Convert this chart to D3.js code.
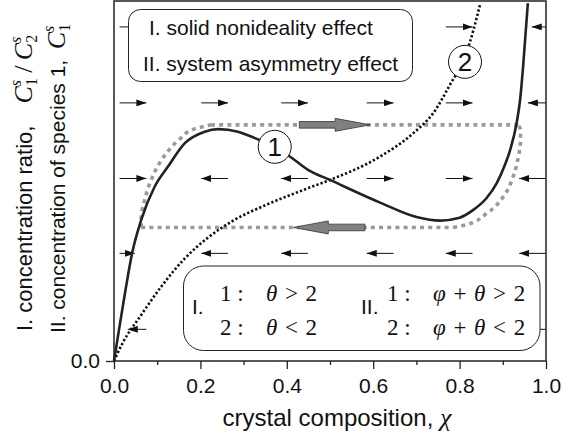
<!DOCTYPE html>
<meta charset="utf-8">
<style>

body { margin: 0; background: #fff; }

text {
  font-family: "Liberation Sans", Arial, sans-serif;
  fill: #111;
}

.math { font-family: "Liberation Serif", "DejaVu Serif", serif; }

.curve1 { fill: none; stroke: #222; stroke-width: 2.6; }
.curve2 { fill: none; stroke: #111; stroke-width: 2.6; stroke-dasharray: 2.3,2.1; }
.loop { fill: none; stroke: #9a9a9a; stroke-width: 3.6; stroke-dasharray: 4,4.2; }
.flow { stroke: #111; stroke-width: 1; fill: none; }
.note { fill: #fff; stroke: #222; stroke-width: 1; }
.big { fill: #808080; stroke: #333; stroke-width: 0.8; }
.frame { fill: none; stroke: #222; stroke-width: 1.5; }

</style>
<svg width="563" height="446"></svg>
<script src="https://cdn.jsdelivr.net/npm/d3@7"></script>
<script>

// x ticks
var xMajor = [0, 0.2, 0.4, 0.6, 0.8, 1.0];
var xMinor = [0.1, 0.3, 0.5, 0.7, 0.9];

// curve 1 (solid): theta > 2
var curve1 = [[0, 0], [0.012, 0.09], [0.027, 0.20], [0.042, 0.30], [0.063, 0.392],
  [0.094, 0.484], [0.125, 0.540], [0.164, 0.605], [0.210, 0.637], [0.241, 0.644],
  [0.287, 0.637], [0.326, 0.619], [0.372, 0.595], [0.407, 0.568], [0.449, 0.531],
  [0.500, 0.503], [0.616, 0.440], [0.700, 0.400], [0.755, 0.390], [0.800, 0.398],
  [0.831, 0.419], [0.862, 0.452], [0.886, 0.494], [0.905, 0.545], [0.917, 0.586],
  [0.932, 0.661], [0.940, 0.725], [0.947, 0.818], [0.958, 0.994]];

// curve 2 (dotted): theta < 2
var curve2 = [[0, 0], [0.020, 0.050], [0.063, 0.128], [0.109, 0.206], [0.164, 0.285],
  [0.218, 0.343], [0.279, 0.392], [0.349, 0.432], [0.449, 0.480], [0.500, 0.503],
  [0.616, 0.568], [0.693, 0.633], [0.740, 0.690], [0.778, 0.768], [0.8125, 0.845],
  [0.832, 0.919], [0.847, 0.989]];

// hysteresis loop (gray dashed): bottom, right, top, left pieces
var loopBottom = [[0.063, 0.371], [0.785, 0.371]];
var loopRight = [[0.785, 0.371], [0.816, 0.379], [0.863, 0.410], [0.901, 0.456],
  [0.924, 0.512], [0.936, 0.567], [0.941, 0.614], [0.941, 0.640], [0.936, 0.656]];
var loopTop = [[0.936, 0.656], [0.225, 0.656]];
var loopLeft = [[0.063, 0.371], [0.063, 0.400], [0.071, 0.447], [0.086, 0.503],
  [0.115, 0.567], [0.150, 0.614], [0.185, 0.644], [0.225, 0.656]];

// big gray arrows: [tail, tip, y]
var bigArrows = [[0.429, 0.593, 0.656], [0.581, 0.415, 0.371]];

// small flow arrows: [from, to, y]
var flows = [
  [0.013, 0.075, 0.928], [0.768, 0.830, 0.928], [1.0, 0.967, 0.928],
  [0.013, 0.075, 0.717], [0.202, 0.264, 0.717], [0.387, 0.449, 0.717],
  [0.585, 0.647, 0.717], [0.768, 0.830, 0.717], [1.0, 0.958, 0.717],
  [0.013, 0.075, 0.507], [0.264, 0.202, 0.507], [0.449, 0.387, 0.507],
  [0.585, 0.647, 0.507], [0.768, 0.830, 0.507], [1.0, 0.938, 0.507],
  [0.013, 0.048, 0.299], [0.264, 0.202, 0.299], [0.449, 0.387, 0.299],
  [0.647, 0.585, 0.299], [0.830, 0.768, 0.299], [1.0, 0.938, 0.299],
  [0.075, 0.032, 0.088], [1.0, 0.938, 0.088]];

// curve labels
var labels = [["1", 0.372, 0.595], ["2", 0.8125, 0.831]];

var svg = d3.select("svg"),
    margin = {left: 114, top: 1, right: 17, bottom: 85},
    width = +svg.attr("width") - margin.left - margin.right,
    height = +svg.attr("height") - margin.top - margin.bottom;

var x = d3.scaleLinear().domain([0, 1]).range([0, width]);
var y = d3.scaleLinear().domain([0, 1]).range([height, 0]);

svg.append("defs").append("marker")
    .attr("id", "head")
    .attr("markerUnits", "userSpaceOnUse")
    .attr("markerWidth", 10).attr("markerHeight", 7)
    .attr("refX", 10).attr("refY", 3.5)
    .attr("orient", "auto")
  .append("path")
    .attr("d", "M0,0L10,3.5L0,7Z")
    .attr("fill", "#111");

var g = svg.append("g")
    .attr("transform", "translate(" + margin.left + "," + margin.top + ")");

var lineX = d3.line()
    .x(function(d) { return x(d[0]); })
    .y(function(d) { return y(d[1]); })
    .curve(d3.curveMonotoneX);

var lineY = d3.line()
    .x(function(d) { return x(d[0]); })
    .y(function(d) { return y(d[1]); })
    .curve(d3.curveMonotoneY);

// flow arrows
g.selectAll(".flow")
  .data(flows)
  .enter().append("line")
    .attr("class", "flow")
    .attr("x1", function(d) { return x(d[0]); })
    .attr("x2", function(d) { return x(d[1]); })
    .attr("y1", function(d) { return y(d[2]); })
    .attr("y2", function(d) { return y(d[2]); })
    .attr("marker-end", "url(#head)");

g.append("path").datum(loopBottom).attr("class", "loop").attr("d", lineX);
g.append("path").datum(loopRight).attr("class", "loop").attr("d", lineY);
g.append("path").datum(loopTop).attr("class", "loop").attr("d", d3.line()
    .x(function(d) { return x(d[0]); })
    .y(function(d) { return y(d[1]); }));
g.append("path").datum(loopLeft).attr("class", "loop").attr("d", lineY);

g.append("path")
    .datum(curve2)
    .attr("class", "curve2")
    .attr("d", lineX);

g.append("path")
    .datum(curve1)
    .attr("class", "curve1")
    .attr("d", lineX);

// big gray arrows
g.selectAll(".big")
  .data(bigArrows)
  .enter().append("path")
    .attr("class", "big")
    .attr("d", function(d) {
      var t = x(d[0]), p = x(d[1]), yy = y(d[2]);
      var s = p > t ? 1 : -1, hb = p - s * 35;
      return "M" + t + "," + (yy - 3.3) + "L" + hb + "," + (yy - 3.3) +
        "L" + hb + "," + (yy - 6.5) + "L" + p + "," + yy +
        "L" + hb + "," + (yy + 6.5) + "L" + hb + "," + (yy + 3.3) +
        "L" + t + "," + (yy + 3.3) + "Z";
    });

var lab = g.selectAll(".lab")
  .data(labels)
  .enter().append("g")
    .attr("transform", function(d) { return "translate(" + x(d[1]) + "," + y(d[2]) + ")"; });

lab.append("circle")
    .attr("r", 16.5)
    .attr("fill", "#fff")
    .attr("stroke", "#111")
    .attr("stroke-width", 1);

lab.append("text")
    .attr("text-anchor", "middle")
    .attr("dy", "0.36em")
    .attr("font-size", 26)
    .text(function(d) { return d[0]; });

// note box 1
svg.append("rect")
    .attr("class", "note")
    .attr("x", 128.5).attr("y", 9.5)
    .attr("width", 284).attr("height", 72)
    .attr("rx", 12);

svg.append("text")
    .attr("x", 149).attr("y", 35)
    .attr("font-size", 21)
    .text("I. solid nonideality effect");

svg.append("text")
    .attr("x", 143).attr("y", 71)
    .attr("font-size", 21)
    .text("II. system asymmetry effect");

// note box 2
svg.append("rect")
    .attr("class", "note")
    .attr("x", 183.5).attr("y", 266)
    .attr("width", 356.5).attr("height", 84.5)
    .attr("rx", 20);

svg.append("text").attr("x", 192).attr("y", 314).attr("font-size", 21).text("I.");
svg.append("text").attr("x", 361).attr("y", 314).attr("font-size", 21).text("II.");

function mathRow(x0, yb, num, parts) {
  var t = svg.append("text").attr("class", "math")
      .attr("x", x0).attr("y", yb).attr("font-size", 23);
  t.append("tspan").text(num + "\u2005:");
  var m = svg.append("text").attr("class", "math")
      .attr("x", x0 + 46).attr("y", yb).attr("font-size", 23);
  parts.forEach(function(p) {
    m.append("tspan")
        .attr("font-style", p[1] ? "italic" : null)
        .text(p[0]);
  });
}

mathRow(220, 301, "1", [["\u03b8", 1], ["\u2004>\u20042", 0]]);
mathRow(220, 335, "2", [["\u03b8", 1], ["\u2004<\u20042", 0]]);
mathRow(387, 301, "1", [["\u03c6", 1], ["\u2004+\u2004", 0], ["\u03b8", 1], ["\u2004>\u20042", 0]]);
mathRow(387, 335, "2", [["\u03c6", 1], ["\u2004+\u2004", 0], ["\u03b8", 1], ["\u2004<\u20042", 0]]);

// frame and axes
g.append("rect")
    .attr("class", "frame")
    .attr("width", width).attr("height", height);

g.append("g")
    .attr("transform", "translate(0," + height + ")")
    .call(d3.axisBottom(x).tickValues(xMajor).tickSize(8).tickPadding(9)
      .tickFormat(d3.format(".1f")));

g.append("g")
    .attr("transform", "translate(0," + height + ")")
    .call(d3.axisBottom(x).tickValues(xMinor).tickSize(4).tickFormat(""));

g.append("g")
    .call(d3.axisLeft(y).tickValues([0]).tickSize(8).tickPadding(6)
      .tickFormat(d3.format(".1f")));

g.selectAll(".domain").remove();
g.selectAll(".tick line").attr("stroke", "#222").attr("stroke-width", 1.3);
g.selectAll(".tick text")
    .attr("font-family", "Liberation Sans, Arial, sans-serif")
    .attr("font-size", 21)
    .attr("fill", "#111");

// axis titles
svg.append("text")
    .attr("x", 337).attr("y", 426)
    .attr("text-anchor", "middle")
    .attr("font-size", 24)
    .text("crystal composition, ")
  .append("tspan")
    .attr("class", "math")
    .attr("font-style", "italic")
    .attr("font-size", 26)
    .text("\u03c7");

function cs(t, sub) {
  t.append("tspan").attr("class", "math").attr("font-style", "italic").attr("font-size", 26).text("C");
  t.append("tspan").attr("class", "math").attr("font-style", "italic").attr("font-size", 16)
      .attr("dy", -11).text("s");
  t.append("tspan").attr("class", "math").attr("font-size", 16)
      .attr("dx", -6).attr("dy", 16).text(sub);
}

var yl1 = svg.append("text")
    .attr("transform", "translate(32,331) rotate(-90)")
    .attr("font-size", 22)
    .text("I. concentration ratio,\u2003");
cs(yl1, "1");
yl1.append("tspan").attr("class", "math").attr("font-size", 26).attr("dy", -5).text("\u2009/\u2009");
cs(yl1, "2");

var yl2 = svg.append("text")
    .attr("transform", "translate(65,333) rotate(-90)")
    .attr("font-size", 21)
    .text("II. concentration of species 1,\u2002");
cs(yl2, "1");

</script>
